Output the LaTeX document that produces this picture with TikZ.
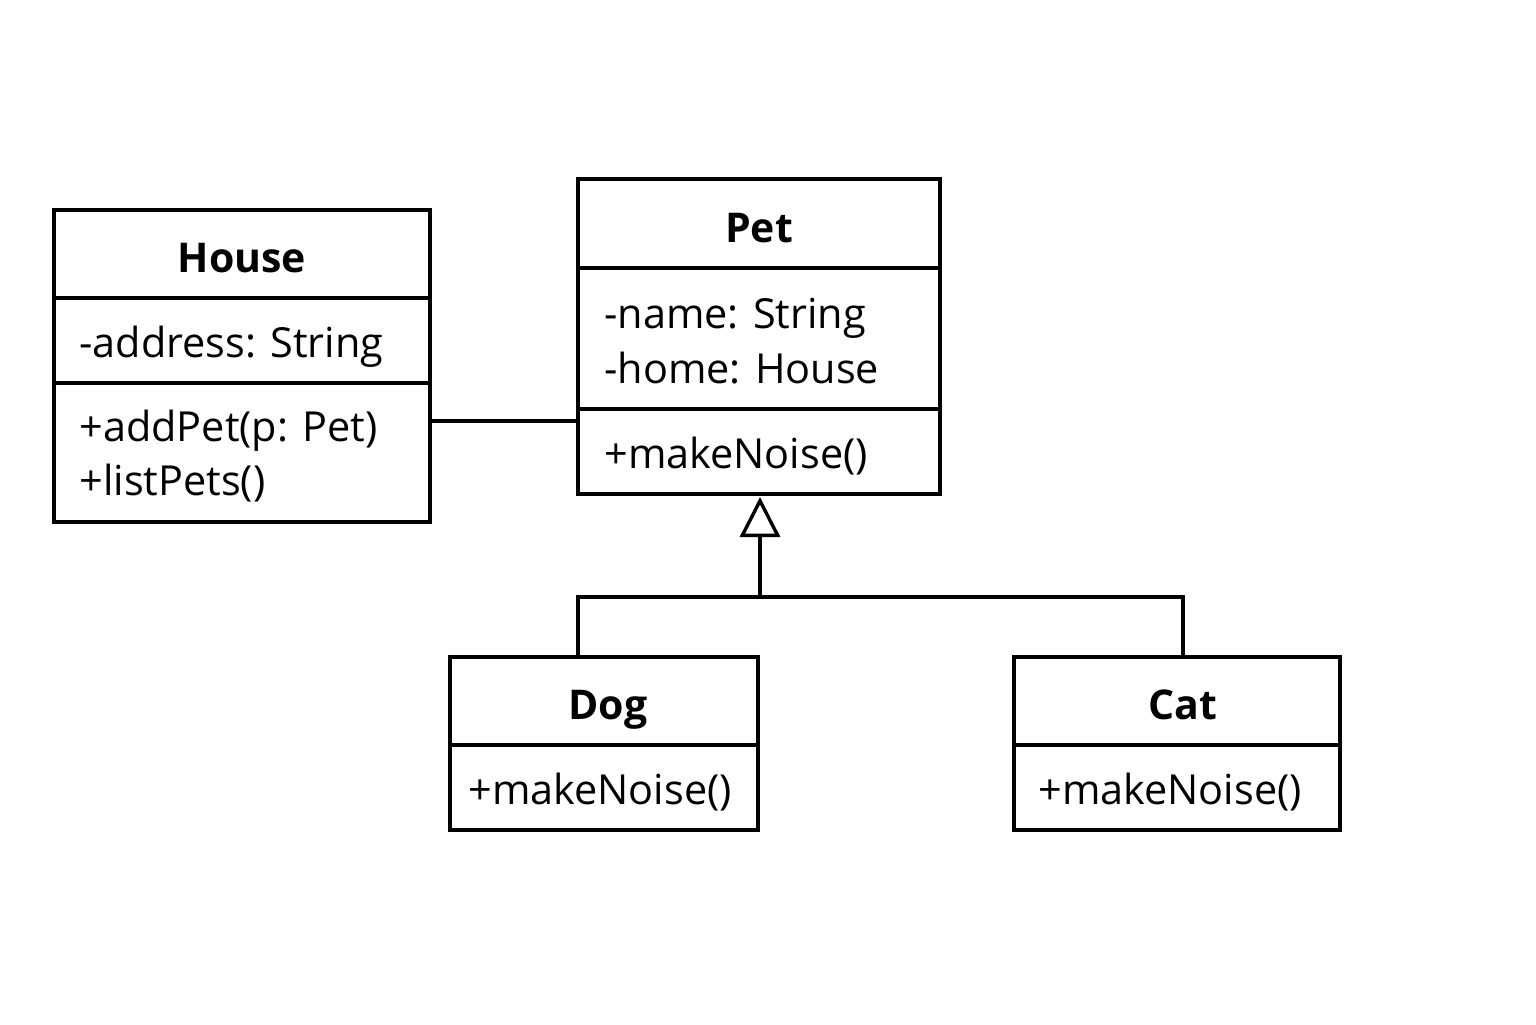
\documentclass[tikz,border=0pt]{standalone}
\usepackage{fontspec}
\setmainfont{Open Sans}
\usetikzlibrary{arrows.meta}
\begin{document}
\begin{tikzpicture}[x=0.5pt,y=-0.5pt,
  box/.style={draw, line width=1.7pt},
  ttl/.style={font=\fontsize{20.5}{24}\selectfont\bfseries, inner sep=0pt, anchor=base},
  txt/.style={font=\fontsize{20.7}{24}\selectfont, anchor=base west, inner sep=0pt},
  conn/.style={line width=1.7pt}]
\useasboundingbox (0,0) rectangle (1536,1024);
% House
\draw[box] (54,210) rectangle (430,522);
\draw[box] (54,298) -- (430,298);
\draw[box] (54,383) -- (430,383);
\node[ttl] (houseT) at (242,272) {House};
\node[txt] (houseA) at (79,357) {-address: String};
\node[txt] (houseM1) at (79,441) {+addPet(p: Pet)};
\node[txt] (houseM2) at (79,495) {+listPets()};
% Pet
\draw[box] (578,179) rectangle (940,494);
\draw[box] (578,268) -- (940,268);
\draw[box] (578,409) -- (940,409);
\node[ttl] (petT) at (759,242) {Pet};
\node[txt] (petA1) at (604,328) {-name: String};
\node[txt] (petA2) at (604,383) {-home: House};
\node[txt] (petM) at (604,468) {+makeNoise()};
% Dog
\draw[box] (450,657) rectangle (758,830);
\draw[box] (450,745) -- (758,745);
\node[ttl] (dogT) at (608,719) {Dog};
\node[txt] (dogM) at (468,804) {+makeNoise()};
% Cat
\draw[box] (1014,657) rectangle (1340,830);
\draw[box] (1014,745) -- (1340,745);
\node[ttl] (catT) at (1183,719) {Cat};
\node[txt] (catM) at (1038,804) {+makeNoise()};
% connectors
\coordinate (houseR) at (430,421);
\coordinate (petL) at (578,421);
\coordinate (petB) at (760,497);
\coordinate (junc) at (760,597);
\coordinate (dogTop) at (578,657);
\coordinate (catTop) at (1183,657);
\draw[conn] (houseR) -- (petL);
\draw[conn,-{Triangle[open,length=20pt,width=20pt,line width=1.7pt]}] (junc) -- (petB);
\draw[conn] (dogTop) |- (junc) -| (catTop);
\end{tikzpicture}
\end{document}
